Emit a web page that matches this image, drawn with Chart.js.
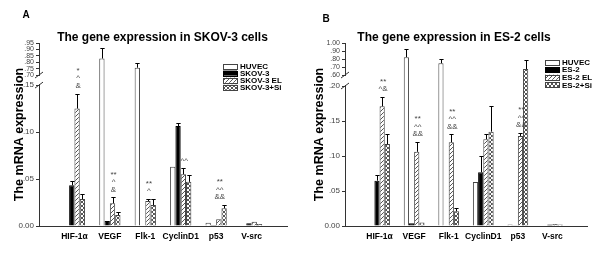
<!DOCTYPE html>
<html>
<head>
<meta charset="utf-8">
<script src="https://cdn.jsdelivr.net/npm/chart.js@4.4.1/dist/chart.umd.min.js"></script>
<style>
  body { margin: 0; background: #fff; }
  .wrap { display: flex; width: 600px; height: 257px; }
  canvas { display: block; }
</style>
</head>
<body>
<div class="wrap">
  <canvas id="chartA" width="300" height="257"></canvas>
  <canvas id="chartB" width="300" height="257"></canvas>
</div>
<script>
// genes on the x axis (both panels)
const genes = ['HIF-1α', 'VEGF', 'Flk-1', 'CyclinD1', 'p53', 'V-src'];

// Panel A - SKOV-3 cells
const namesA = ['HUVEC', 'SKOV-3', 'SKOV-3 EL', 'SKOV-3+Si'];
const huvecA = [0, 0.829, 0.757, 0.063, 0.0035, 0];
const skovA = [0.0433, 0.0053, 0, 0.1064, 0.001, 0.003];
const skovElA = [0.125, 0.0241, 0.0266, 0.055, 0.0071, 0.0045];
const skovSiA = [0.0287, 0.0117, 0.0223, 0.047, 0.0188, 0.002];
// upward error bars (SD)
const huvecErrA = [null, 0.085, 0.033, null, null, null];
const skovErrA = [0.0046, null, null, 0.003, null, null];
const skovElErrA = [0.016, 0.0064, 0.0021, 0.0064, null, null];
const skovSiErrA = [0.0053, 0.003, 0.0064, 0.007, 0.0035, null];
const marksA = [['*', '^', '&'], ['**', '^', '&'], ['**', '^'], ['^^'], ['**', '^^', '&&'], []];
const ticksA = [0, 0.05, 0.10, 0.15, 0.70, 0.75, 0.80, 0.85, 0.90, 0.95];

// Panel B - ES-2 cells
const namesB = ['HUVEC', 'ES-2', 'ES-2 EL', 'ES-2+Si'];
const huvecB = [0, 0.823, 0.747, 0.063, 0.002, 0];
const es2B = [0.0647, 0.0038, 0, 0.0767, 0.001, 0.002];
const es2ElB = [0.171, 0.106, 0.1195, 0.124, 0.1286, 0.003];
const es2SiB = [0.117, 0.005, 0.021, 0.1348, 0.675, 0.002];
const huvecErrB = [null, 0.1, 0.053, null, null, null];
const es2ErrB = [0.0082, null, null, 0.023, null, null];
const es2ElErrB = [0.013, 0.014, 0.0115, 0.007, 0.0044, null];
const es2SiErrB = [0.014, null, 0.005, 0.036, 0.115, null];
const marksB = [['**', '^&'], ['**', '^^', '&&'], ['**', '^^', '&&'], [], ['**', '^^', '&&'], []];
const ticksB = [0, 0.05, 0.10, 0.15, 0.20, 0.60, 0.70, 0.80, 0.90, 1.00];

const fam = '"Liberation Sans", Arial, sans-serif';
Chart.defaults.font.family = fam;

// y scale with a break between lowerMax and upperMin
class BrokenScale extends Chart.LinearScale {
  static id = 'broken';
  static defaults = {};
  determineDataLimits() {
    this.min = 0;
    this.max = this.options.brk.upperMax;
  }
  buildTicks() {
    return this.options.brk.values.map(v => ({ value: v }));
  }
  parts() {
    const b = this.options.brk, h = this.bottom - this.top;
    const low = h * b.lowerFrac, gap = h * b.gapFrac;
    return { b, low, gap, up: h - low - gap };
  }
  getPixelForValue(v) {
    const { b, low, gap, up } = this.parts();
    if (v <= b.lowerMax) return this.bottom - v / b.lowerMax * low;
    if (v >= b.upperMin) return this.top + up - (v - b.upperMin) / (b.upperMax - b.upperMin) * up;
    return this.bottom - low - (v - b.lowerMax) / (b.upperMin - b.lowerMax) * gap;
  }
  getValueForPixel(px) {
    const { b, low, gap, up } = this.parts();
    const d = this.bottom - px;
    if (d <= low) return d / low * b.lowerMax;
    if (d >= low + gap) return b.upperMin + (d - low - gap) / up * (b.upperMax - b.upperMin);
    return b.lowerMax + (d - low) / gap * (b.upperMin - b.lowerMax);
  }
}
Chart.register(BrokenScale);

function hatch(cross) {
  const c = document.createElement('canvas');
  c.width = 4; c.height = 4;
  const g = c.getContext('2d');
  g.fillStyle = '#fff';
  g.fillRect(0, 0, 4, 4);
  g.strokeStyle = '#555';
  g.lineWidth = 1;
  g.beginPath();
  g.moveTo(-1, 5); g.lineTo(5, -1);
  g.moveTo(-1, 1); g.lineTo(1, -1);
  g.moveTo(3, 5); g.lineTo(5, 3);
  if (cross) {
    g.moveTo(-1, -1); g.lineTo(5, 5);
    g.moveTo(3, -1); g.lineTo(5, 1);
    g.moveTo(-1, 3); g.lineTo(1, 5);
  }
  g.stroke();
  return g.createPattern(c, 'repeat');
}
const stripes = hatch(false);
const crosses = hatch(true);

const fmt = v => v === 0 ? '0.00' : v >= 1 ? v.toFixed(2) : v.toFixed(2).replace(/^0/, '');

function decor(p) {
  return {
    id: 'decor',
    afterDatasetsDraw(chart) {
      const ctx = chart.ctx, y = chart.scales.y;
      ctx.save();
      ctx.strokeStyle = '#000';
      ctx.lineWidth = 1;
      // error bars
      chart.data.datasets.forEach((ds, i) => {
        chart.getDatasetMeta(i).data.forEach((bar, j) => {
          const sd = ds.errors[j];
          if (sd == null || ds.data[j] == null) return;
          const x = Math.round(bar.x) + 0.5;
          const top = Math.round(y.getPixelForValue(ds.data[j] + sd)) + 0.5;
          const half = Math.max(2, bar.width / 2 - 0.5);
          ctx.beginPath();
          ctx.moveTo(x, bar.y);
          ctx.lineTo(x, top);
          ctx.moveTo(x - half, top);
          ctx.lineTo(x + half, top);
          ctx.stroke();
        });
      });
      // significance marks above the EL bar
      const el = chart.data.datasets[2], si = chart.data.datasets[3];
      const elMeta = chart.getDatasetMeta(2);
      ctx.fillStyle = '#444';
      ctx.font = '8px ' + fam;
      ctx.textAlign = 'center';
      ctx.textBaseline = 'middle';
      p.marks.forEach((lines, k) => {
        if (!lines.length) return;
        const j = k + 1;
        let topVal = el.data[j] + (el.errors[j] || 0);
        const siTop = si.data[j] + (si.errors[j] || 0);
        if (si.data[j] <= p.brk.lowerMax) topVal = Math.max(topVal, siTop);
        const base = y.getPixelForValue(topVal);
        const x = elMeta.data[j].x + 1;
        lines.forEach((s, n) => {
          ctx.fillText(s, x, base - 8 - (lines.length - 1 - n) * 7.5);
        });
      });
      ctx.restore();
    },
    afterDraw(chart) {
      const ctx = chart.ctx, y = chart.scales.y;
      ctx.save();
      // panel letter and title
      ctx.fillStyle = '#000';
      ctx.textBaseline = 'alphabetic';
      ctx.font = 'bold 10px ' + fam;
      ctx.textAlign = 'left';
      ctx.fillText(p.letter, 22.5, p.letterY);
      ctx.font = 'bold 12px ' + fam;
      ctx.textAlign = 'center';
      ctx.fillText(p.title, p.titleX, 41);
      // legend
      ctx.font = 'bold 8px ' + fam;
      ctx.textAlign = 'left';
      ctx.textBaseline = 'middle';
      chart.data.datasets.forEach((ds, i) => {
        const cy = p.legendY + i * p.legendStep;
        ctx.fillStyle = ds.backgroundColor;
        ctx.fillRect(p.legendX, cy - 2.5, 14, 5);
        ctx.strokeStyle = ds.borderColor;
        ctx.lineWidth = 1;
        ctx.strokeRect(p.legendX + 0.5, Math.round(cy - 2.5) + 0.5, 14, 5);
        ctx.fillStyle = '#000';
        ctx.fillText(ds.label, p.legendX + 17, cy + 0.5);
      });
      // axis break
      const ax = Math.round(chart.chartArea.left);
      const gTop = y.getPixelForValue(p.brk.upperMin);
      const gBot = y.getPixelForValue(p.brk.lowerMax);
      ctx.fillStyle = '#fff';
      ctx.fillRect(ax - 2, gTop + 1, 4, gBot - gTop - 2);
      ctx.strokeStyle = '#333';
      ctx.beginPath();
      [gTop, gBot].forEach(yy => {
        ctx.moveTo(ax - 4, yy + 3);
        ctx.lineTo(ax + 4, yy - 3);
      });
      ctx.stroke();
      ctx.restore();
    }
  };
}

function buildPanel(id, p) {
  const pad = arr => [null, ...arr, null];
  const looks = [
    { bg: '#fff', border: '#444' },
    { bg: '#000', border: '#000' },
    { bg: stripes, border: '#444' },
    { bg: crosses, border: '#444' }
  ];
  const datasets = p.series.map((vals, i) => ({
    label: p.names[i],
    data: pad(vals),
    errors: pad(p.errors[i]),
    backgroundColor: looks[i].bg,
    borderColor: looks[i].border,
    borderWidth: 1,
    categoryPercentage: 0.6,
    barPercentage: 1
  }));

  return new Chart(document.getElementById(id), {
    type: 'bar',
    data: { labels: ['', ...genes, ''], datasets },
    options: {
      responsive: false,
      animation: false,
      devicePixelRatio: 1,
      layout: { padding: { top: 43, right: 13, left: 0, bottom: 0 } },
      plugins: { legend: { display: false }, tooltip: { enabled: false } },
      scales: {
        x: {
          offset: false,
          grid: { display: false, drawTicks: false },
          border: { display: true, color: '#333' },
          ticks: {
            autoSkip: false, maxRotation: 0, padding: 6, color: '#000',
            font: { size: 8.5, weight: 'bold' }
          },
          afterFit: s => { s.height = 31; }
        },
        y: {
          type: 'broken',
          brk: p.brk,
          grid: { drawOnChartArea: false, tickLength: 3, color: '#333' },
          border: { display: true, color: '#333' },
          ticks: {
            autoSkip: false, padding: 2, color: '#444',
            font: c => ({ size: c.tick && c.tick.value >= p.brk.upperMin ? 7 : 8 }),
            callback: v => fmt(v)
          },
          title: {
            display: true, text: 'The mRNA expression', color: '#000',
            font: { size: 12.5, weight: 'bold' },
            padding: { top: 12.5, bottom: 0 }
          },
          afterFit: s => { s.width = p.axisLeft; }
        }
      }
    },
    plugins: [decor(p)]
  });
}

buildPanel('chartA', {
  letter: 'A', letterY: 17.5,
  title: 'The gene expression in SKOV-3 cells', titleX: 162.5,
  names: namesA,
  series: [huvecA, skovA, skovElA, skovSiA],
  errors: [huvecErrA, skovErrA, skovElErrA, skovSiErrA],
  marks: marksA,
  axisLeft: 39,
  brk: { values: ticksA, lowerMax: 0.15, upperMin: 0.70, upperMax: 0.95, lowerFrac: 0.77, gapFrac: 0.055 },
  legendX: 223, legendY: 66, legendStep: 7.1
});

buildPanel('chartB', {
  letter: 'B', letterY: 21.5,
  title: 'The gene expression in ES-2 cells', titleX: 154,
  names: namesB,
  series: [huvecB, es2B, es2ElB, es2SiB],
  errors: [huvecErrB, es2ErrB, es2ElErrB, es2SiErrB],
  marks: marksB,
  axisLeft: 45,
  brk: { values: ticksB, lowerMax: 0.20, upperMin: 0.60, upperMax: 1.00, lowerFrac: 0.765, gapFrac: 0.06 },
  legendX: 245, legendY: 62, legendStep: 7.6
});
</script>
</body>
</html>
